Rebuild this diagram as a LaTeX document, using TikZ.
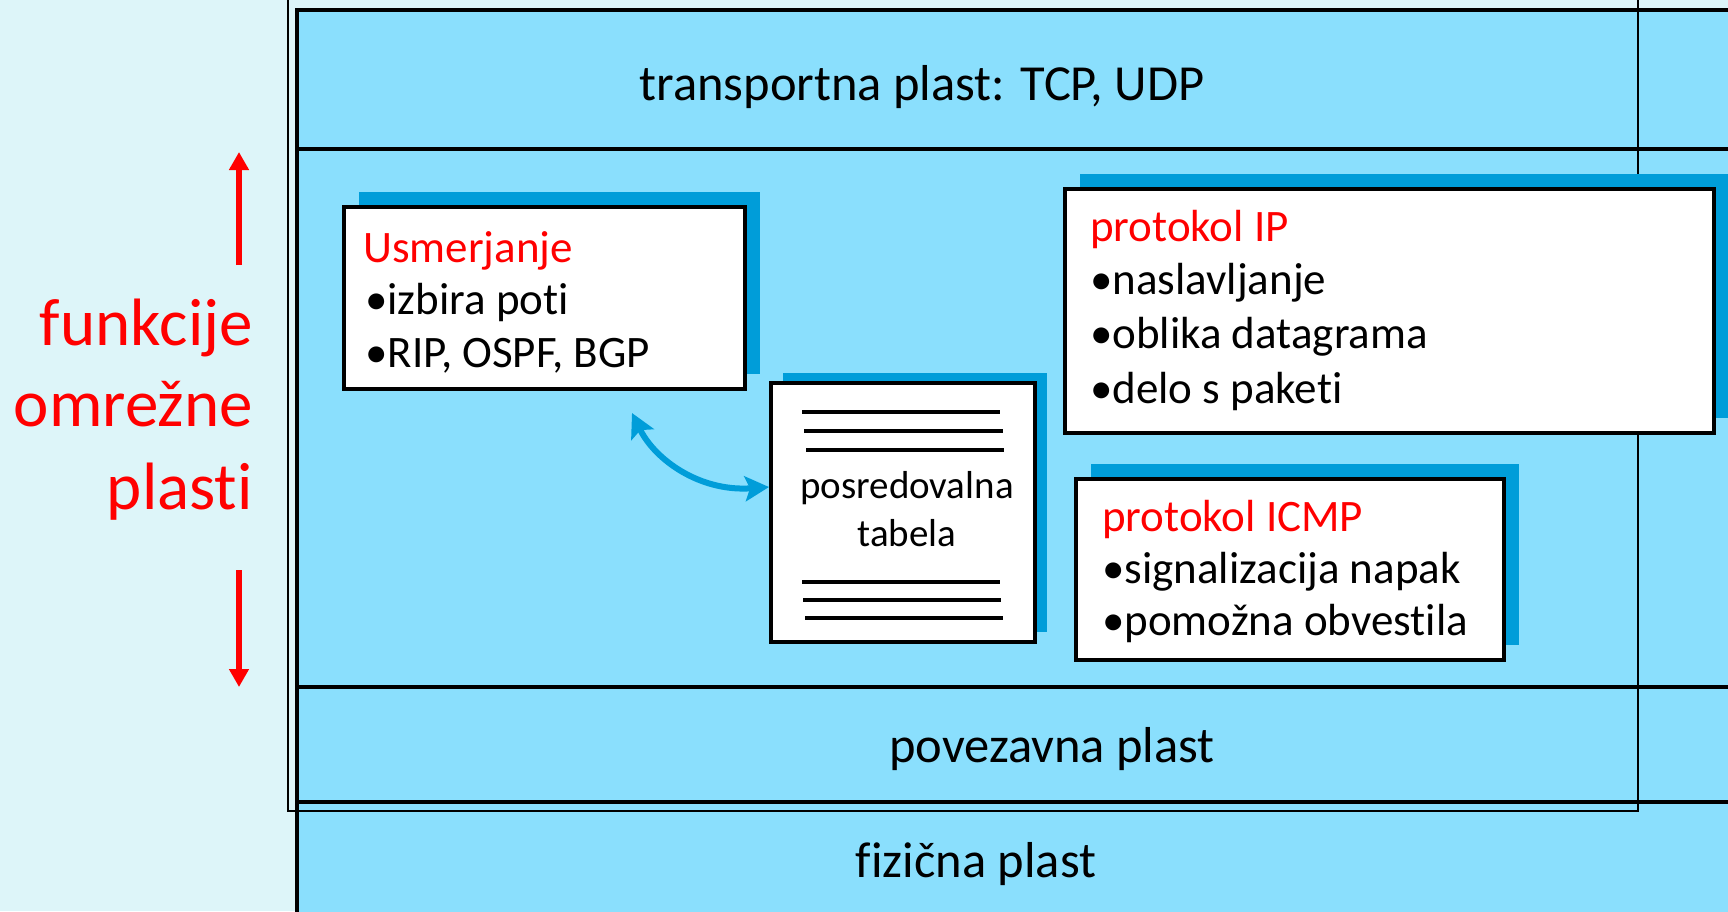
\documentclass[tikz,border=0pt]{standalone}
\usepackage{fontspec}
\setmainfont{Carlito}[Ligatures={NoCommon},RawFeature=-liga,RawFeature=-clig,RawFeature=-calt,RawFeature=-dlig]
\usetikzlibrary{arrows.meta,shadows}
\definecolor{pale}{RGB}{221,245,249}
\definecolor{layerblue}{RGB}{138,223,253}
\definecolor{shadowblue}{RGB}{0,157,217}
\definecolor{redtxt}{RGB}{255,0,0}
\begin{document}
\begin{tikzpicture}[x=1pt,y=-1pt,
  box/.style={draw=black,line width=4pt,fill=white,inner sep=0pt,
    copy shadow={shadow xshift=15pt,shadow yshift=15pt,fill=shadowblue,draw=none}},
  tabbox/.style={draw=black,line width=4pt,fill=white,inner sep=0pt,
    copy shadow={shadow xshift=12pt,shadow yshift=10pt,fill=shadowblue,draw=none}},
  boxtxt/.style={anchor=base west,inner sep=0pt,font=\fontsize{45}{54}\selectfont},
  headtxt/.style={boxtxt,text=redtxt},
  layertxt/.style={anchor=base,inner sep=0pt,font=\fontsize{50.5}{60}\selectfont},
  sidetxt/.style={anchor=base east,inner sep=0pt,text=redtxt,font=\fontsize{67}{80}\selectfont},
  tabtxt/.style={anchor=base,inner sep=0pt,font=\fontsize{39}{47}\selectfont},
  tabrule/.style={line width=3.3pt},
  layerline/.style={line width=4pt},
  redarr/.style={draw=redtxt,line width=6pt,-{Triangle[length=18pt,width=19pt]}},
  bluearr/.style={draw=shadowblue,line width=6pt,
    {Stealth[length=24pt,width=25pt,inset=5pt]}-{Stealth[length=24pt,width=25pt,inset=5pt]}},
]
\useasboundingbox (0,0) rectangle (1728,911);
\clip (0,0) rectangle (1728,911);
\fill[pale] (0,0) rectangle (1728,911);

% layer stack
\draw[layerline,fill=layerblue] (297,10) rectangle (1780,960);
\draw[layerline] (297,149) -- (1780,149);
\draw[layerline] (297,687) -- (1780,687);
\draw[layerline] (297,802) -- (1780,802);
\draw[line width=2.5pt] (288,-20) rectangle (1638,811);

\node[layertxt] (transport) at (922,100) {transportna plast: TCP, UDP};
\node[layertxt] (link) at (1052,762) {povezavna plast};
\node[layertxt] (phys) at (976,877) {fizična plast};

% side label
\node[sidetxt] (side1) at (253,345) {funkcije};
\node[sidetxt] (side2) at (253,426) {omrežne};
\node[sidetxt] (side3) at (253,509) {plasti};
\coordinate (upTail) at (239,265);
\coordinate (upTip) at (239,152);
\coordinate (dnTail) at (239,570);
\coordinate (dnTip) at (239,687);
\draw[redarr] (upTail) -- (upTip);
\draw[redarr] (dnTail) -- (dnTip);

% boxes
\node[box,minimum width=401,minimum height=182] (usm) at (544.5,298) {};
\node[box,minimum width=649,minimum height=244] (ip) at (1389.5,311) {};
\node[box,minimum width=428,minimum height=181] (icmp) at (1290,569.5) {};
\node[tabbox,minimum width=264,minimum height=259] (tab) at (903,512.5) {};

\node[headtxt] (usm1) at (363,262) {Usmerjanje};
\node[boxtxt] (usm2) at (365,314) {•izbira poti};
\node[boxtxt] (usm3) at (365,367) {•RIP, OSPF, BGP};

\node[headtxt] (ip1) at (1090,241) {protokol IP};
\node[boxtxt] (ip2) at (1090,294) {•naslavljanje};
\node[boxtxt] (ip3) at (1090,348) {•oblika datagrama};
\node[boxtxt] (ip4) at (1090,403) {•delo s paketi};

\node[headtxt] (icmp1) at (1102,531) {protokol ICMP};
\node[boxtxt] (icmp2) at (1102,583) {•signalizacija napak};
\node[boxtxt] (icmp3) at (1102,635) {•pomožna obvestila};

\draw[tabrule] (802,412) -- (1000,412);
\draw[tabrule] (804,431) -- (1003,431);
\draw[tabrule] (806,450) -- (1004,450);
\draw[tabrule] (802,582) -- (1000,582);
\draw[tabrule] (803,600) -- (1001,600);
\draw[tabrule] (805,618) -- (1003,618);
\node[tabtxt] (tab1) at (907,498) {posredovalna};
\node[tabtxt] (tab2) at (907,546) {tabela};

% curved double arrow
\coordinate (arrA) at (632,413);
\draw[bluearr] (arrA) .. controls (655,460) and (700,492) .. ([yshift=25.5pt]tab.west);
\end{tikzpicture}
\end{document}
